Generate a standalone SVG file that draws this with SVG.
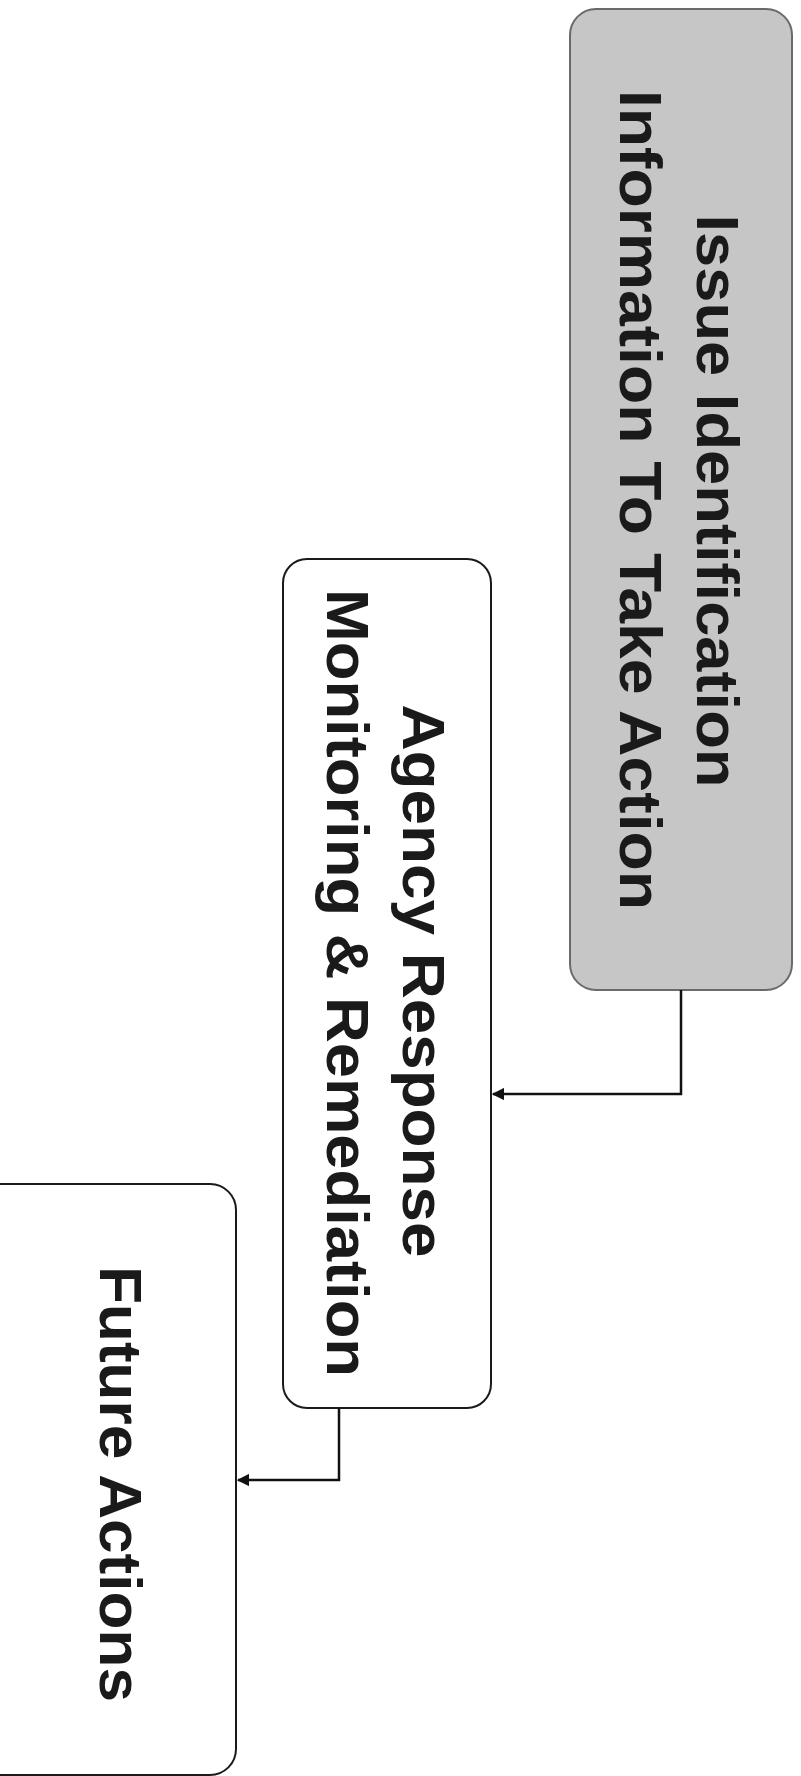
<svg xmlns="http://www.w3.org/2000/svg" width="801" height="1776" viewBox="0 0 801 1776">
<style>
.box{fill:#ffffff;stroke:#1a1a1a;stroke-width:2}
.shaded{fill:#c6c6c6;stroke:#6a6a6a;stroke-width:2}
.lbl{font-family:"Liberation Sans",Arial,sans-serif;font-weight:bold;font-size:60px;fill:#1a1a1a;text-anchor:middle}
.conn{fill:none;stroke:#111;stroke-width:2.5}
</style>
<defs>
<marker id="arr" viewBox="0 0 10 10" refX="9" refY="5" markerWidth="5" markerHeight="5" orient="auto">
<path d="M0,0 L10,5 L0,10 z" fill="#111"/>
</marker>
</defs>
<rect width="801" height="1776" fill="#ffffff"/>
<g id="node-issue">
<rect class="shaded" x="570" y="9" width="222" height="981" rx="26" ry="26"/>
<text class="lbl" transform="translate(697,501) rotate(90)" textLength="573" lengthAdjust="spacingAndGlyphs">Issue Identification</text>
<text class="lbl" transform="translate(620,500) rotate(90)" textLength="820" lengthAdjust="spacingAndGlyphs">Information To Take Action</text>
</g>
<g id="node-agency">
<rect class="box" x="283" y="559" width="208" height="849" rx="24" ry="24"/>
<text class="lbl" transform="translate(403,981) rotate(90)" textLength="553" lengthAdjust="spacingAndGlyphs">Agency Response</text>
<text class="lbl" transform="translate(327,983) rotate(90)" textLength="788" lengthAdjust="spacingAndGlyphs">Monitoring &amp; Remediation</text>
</g>
<g id="node-future">
<rect class="box" x="-30" y="1184" width="266" height="591" rx="26" ry="26"/>
<text class="lbl" transform="translate(100,1484) rotate(90)" textLength="436" lengthAdjust="spacingAndGlyphs">Future Actions</text>
</g>
<g id="connectors">
<path class="conn" d="M681,990 V1094 H493" marker-end="url(#arr)"/>
<path class="conn" d="M339,1408 V1480 H238" marker-end="url(#arr)"/>
</g>
</svg>
